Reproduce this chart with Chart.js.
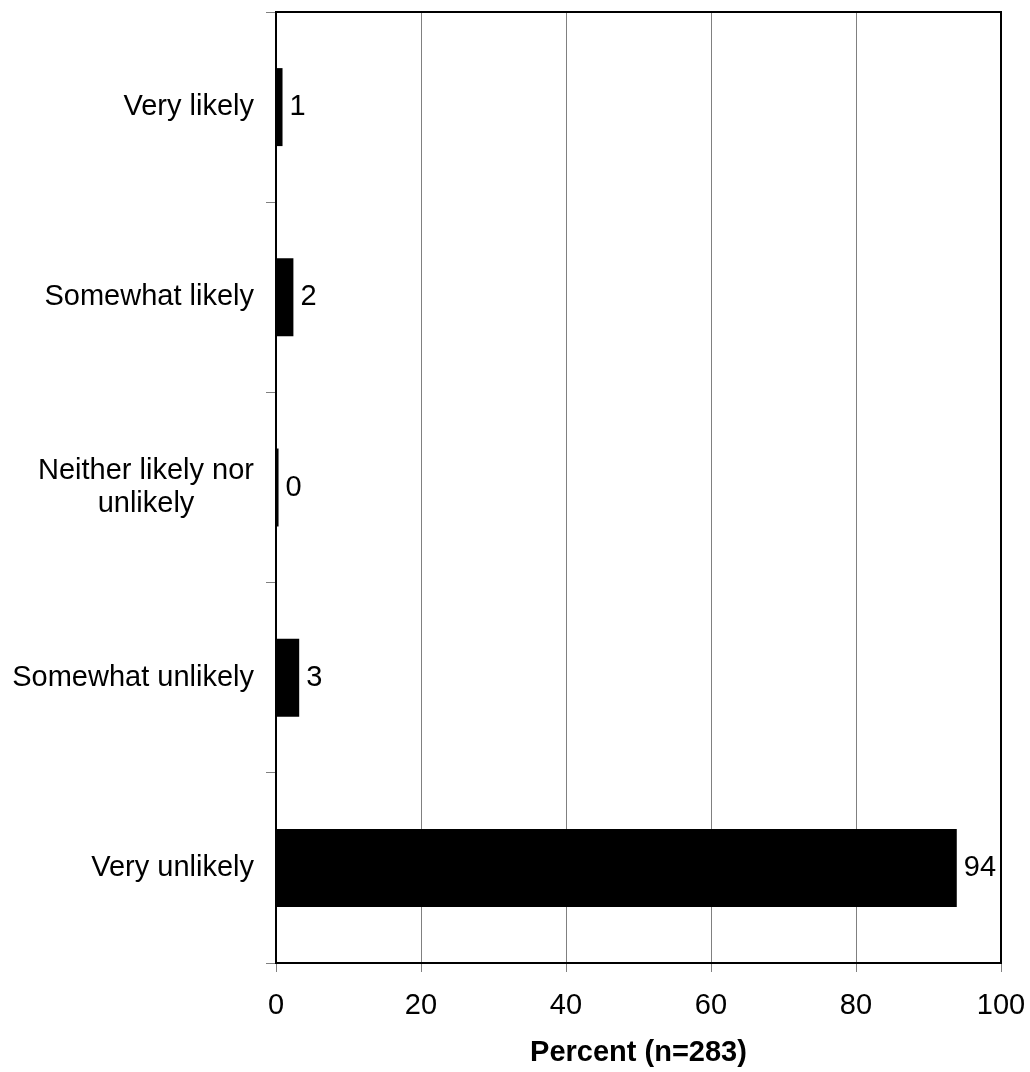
<!DOCTYPE html>
<html>
<head>
<meta charset="utf-8">
<script src="https://cdn.jsdelivr.net/npm/chart.js@4/dist/chart.umd.min.js"></script>
<style>
  html, body { margin: 0; padding: 0; background: #fff; }
</style>
</head>
<body>
<canvas id="likelyChart" width="1030" height="1072"></canvas>
<script>
// data
const categories = [
  ["Very likely"],
  ["Somewhat likely"],
  ["Neither likely nor", "unlikely"],
  ["Somewhat unlikely"],
  ["Very unlikely"]
];
const percents = [0.9, 2.4, 0.35, 3.2, 93.9];
const valueLabels = ["1", "2", "0", "3", "94"];
const xTicks = [0, 20, 40, 60, 80, 100];
const axisTitle = "Percent (n=283)";

const fontFamily = "'Liberation Sans', Arial, Helvetica, sans-serif";
const fontSize = 29;
const gridGray = "#808080";

// value labels, category labels and the top/right frame
const labelPlugin = {
  id: "labelPlugin",
  afterDatasetsDraw(chart) {
    const ctx = chart.ctx;
    const meta = chart.getDatasetMeta(0);
    const yScale = chart.scales.y;
    const area = chart.chartArea;
    ctx.save();
    ctx.font = fontSize + "px " + fontFamily;
    ctx.fillStyle = "#000";
    ctx.textBaseline = "middle";

    ctx.textAlign = "left";
    meta.data.forEach((bar, i) => {
      ctx.fillText(valueLabels[i], bar.x + 7, bar.y);
    });

    const rightEdge = yScale.right - 10 - 12;
    const lineH = 33;
    ctx.textAlign = "center";
    categories.forEach((lines, i) => {
      const widest = Math.max(...lines.map(l => ctx.measureText(l).width));
      const cx = rightEdge - widest / 2;
      const y0 = yScale.getPixelForValue(i) - (lines.length - 1) * lineH / 2;
      lines.forEach((l, j) => ctx.fillText(l, cx, y0 + j * lineH));
    });

    ctx.strokeStyle = "#000";
    ctx.lineWidth = 2;
    ctx.beginPath();
    ctx.moveTo(area.left, area.top);
    ctx.lineTo(area.right, area.top);
    ctx.lineTo(area.right, area.bottom);
    ctx.stroke();
    ctx.restore();
  }
};

new Chart(document.getElementById("likelyChart"), {
  type: "bar",
  data: {
    labels: categories,
    datasets: [{
      data: percents,
      backgroundColor: "#000",
      borderWidth: 0,
      categoryPercentage: 1,
      barPercentage: 0.41
    }]
  },
  options: {
    indexAxis: "y",
    responsive: false,
    animation: false,
    devicePixelRatio: 1,
    layout: { padding: { top: 12, right: 29, left: 0, bottom: 0 } },
    plugins: { legend: { display: false }, tooltip: { enabled: false } },
    scales: {
      y: {
        grid: { drawOnChartArea: false, color: gridGray, tickLength: 10, offset: true },
        border: { color: "#000", width: 2 },
        ticks: { display: false },
        afterFit(s) { s.width = 276; s.paddingTop = 0; s.paddingBottom = 0; }
      },
      x: {
        min: 0,
        max: 100,
        afterBuildTicks(s) { s.ticks = xTicks.map(v => ({ value: v })); },
        ticks: { color: "#000", font: { size: fontSize, family: fontFamily }, padding: 17, maxRotation: 0 },
        grid: { color: gridGray, lineWidth: 1, tickLength: 9 },
        border: { color: "#000", width: 2 },
        title: {
          display: true,
          text: axisTitle,
          color: "#000",
          font: { size: fontSize, weight: "bold", family: fontFamily },
          padding: { top: 0, bottom: 2 }
        },
        afterFit(s) { s.height = 109; s.paddingLeft = 0; s.paddingRight = 0; }
      }
    }
  },
  plugins: [labelPlugin]
});
</script>
</body>
</html>
